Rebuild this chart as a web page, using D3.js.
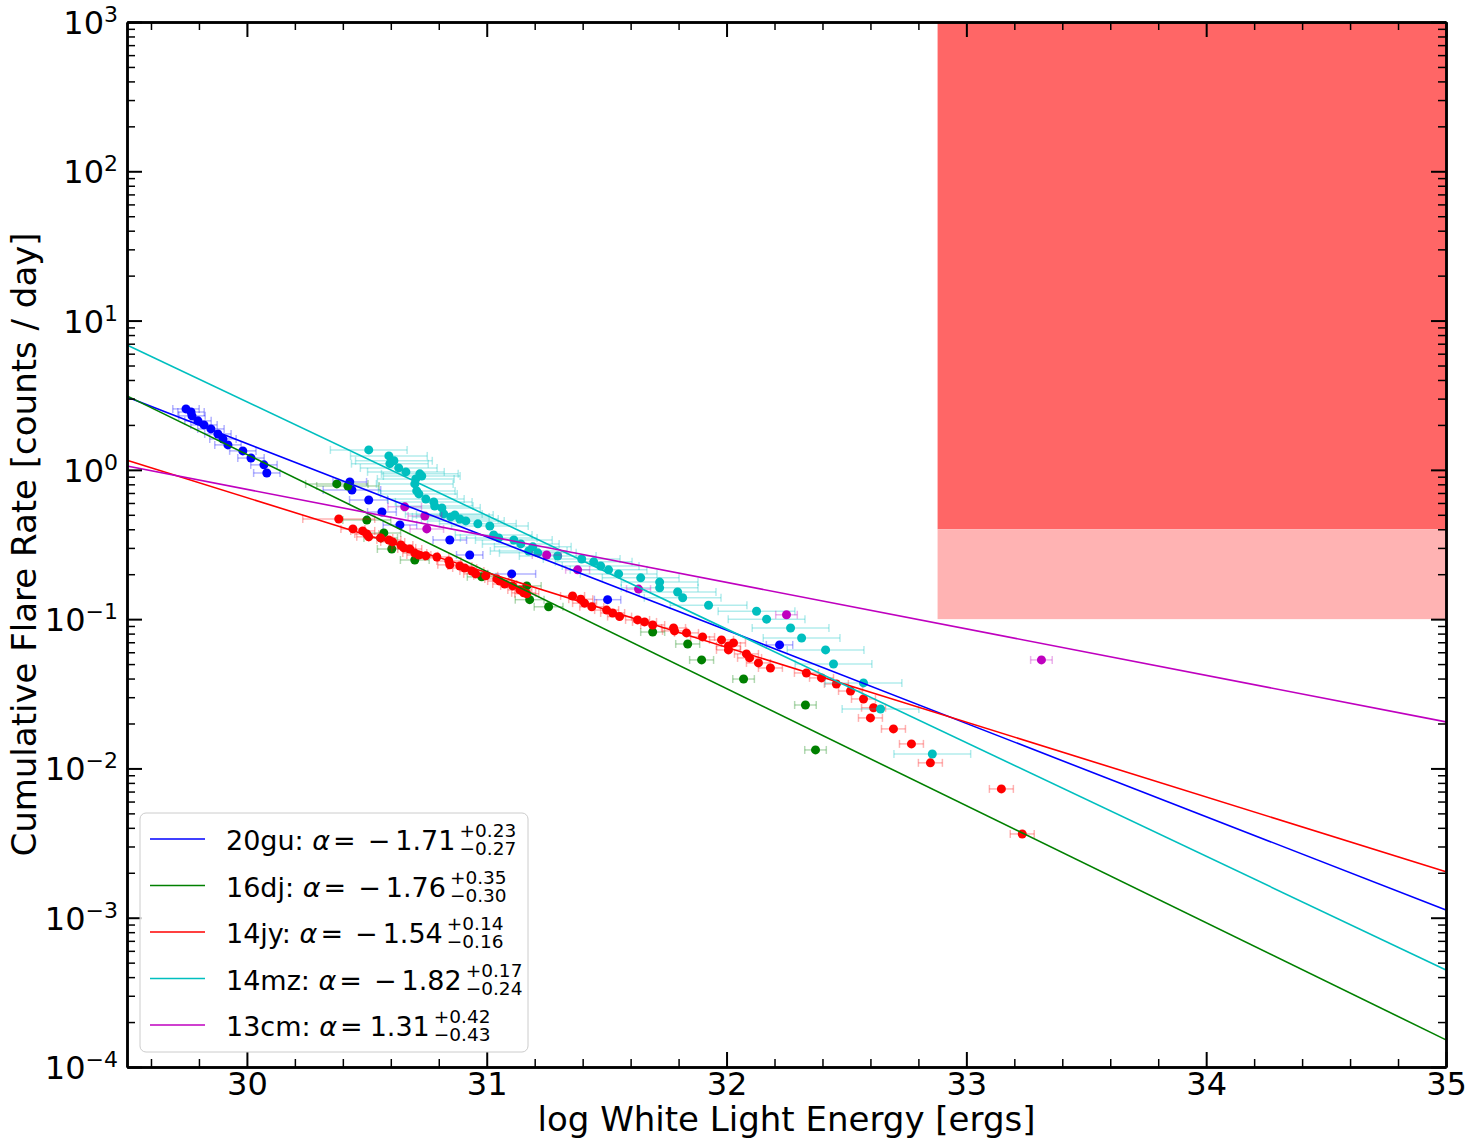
<!DOCTYPE html>
<html>
<head>
<meta charset="utf-8">
<script src="https://cdn.jsdelivr.net/npm/d3@7"></script>
<style>
  body { margin: 0; background: #fff; }
  text { font-family: "DejaVu Sans", sans-serif; }
</style>
</head>
<body>
<svg id="chart" width="1467" height="1142"></svg>
<script>
// --- data ---
// 20gu (blue)
const gu20E = [29.746,29.767,29.771,29.796,29.821,29.850,29.879,29.900,29.921,29.983,30.017,30.071,30.083,30.429,30.438,30.508,30.563,30.638,30.846,30.929,31.104,31.504,32.221];
const gu20Rate = [2.56,2.44,2.30,2.13,2.00,1.88,1.74,1.61,1.47,1.34,1.20,1.08,0.953,0.830,0.733,0.628,0.522,0.428,0.339,0.269,0.201,0.135,0.0672];
const gu20Err = [0.055,0.055,0.055,0.055,0.055,0.055,0.055,0.055,0.055,0.055,0.055,0.055,0.055,0.07,0.12,0.08,0.06,0.07,0.07,0.055,0.1,0.055,0.055];

// 16dj (green)
const dj16E = [30.375,30.421,30.500,30.571,30.558,30.604,30.700,30.979,31.167,31.179,31.258,31.692,31.838,31.896,32.071,32.329,32.371];
const dj16Rate = [0.805,0.780,0.461,0.378,0.350,0.295,0.249,0.192,0.167,0.135,0.121,0.0820,0.0682,0.0533,0.0397,0.0266,0.0133];
const dj16Err = [0.13,0.13,0.1,0.07,0.07,0.06,0.06,0.06,0.06,0.06,0.06,0.05,0.05,0.05,0.045,0.045,0.045];

// 14jy (red)
const jy14E = [30.383,30.442,30.483,30.500,30.508,30.558,30.592,30.608,30.642,30.654,30.679,30.700,30.717,30.746,30.792,30.842,30.846,30.888,30.908,30.938,30.954,30.996,31.042,31.054,31.075,31.108,31.138,31.154,31.167,31.358,31.392,31.408,31.438,31.500,31.525,31.554,31.629,31.658,31.692,31.779,31.783,31.833,31.900,31.979,32.029,32.008,32.008,32.083,32.096,32.133,32.183,32.333,32.396,32.458,32.517,32.571,32.613,32.600,32.696,32.771,32.850,33.146,33.233];
const jy14Rate = [0.469,0.402,0.390,0.372,0.356,0.350,0.339,0.329,0.314,0.300,0.295,0.277,0.269,0.266,0.261,0.245,0.231,0.227,0.220,0.210,0.201,0.195,0.186,0.180,0.172,0.167,0.157,0.150,0.148,0.143,0.136,0.128,0.121,0.115,0.110,0.104,0.0988,0.0958,0.0914,0.0873,0.0834,0.0809,0.0760,0.0726,0.0693,0.0662,0.0622,0.0585,0.0550,0.0509,0.0471,0.0436,0.0404,0.0368,0.0330,0.0292,0.0255,0.0218,0.0184,0.0146,0.0109,0.00729,0.00364];
const jy14Err = 0.05;

// 14mz (cyan)
const mz14E = [30.508,30.592,30.613,30.596,30.633,30.663,30.721,30.729,30.704,30.700,30.708,30.717,30.746,30.779,30.783,30.813,30.821,30.850,30.867,30.888,30.913,30.963,31.013,31.029,31.050,31.113,31.142,31.175,31.192,31.213,31.296,31.396,31.446,31.475,31.508,31.550,31.642,31.721,31.721,31.796,31.817,31.925,32.125,32.167,32.267,32.313,32.413,32.446,32.571,32.642,32.858];
const mz14Rate = [1.36,1.24,1.15,1.10,1.03,0.969,0.940,0.910,0.869,0.805,0.723,0.690,0.638,0.610,0.573,0.556,0.507,0.484,0.499,0.469,0.455,0.435,0.421,0.366,0.350,0.339,0.319,0.286,0.305,0.278,0.265,0.253,0.242,0.227,0.214,0.201,0.189,0.177,0.162,0.152,0.139,0.124,0.113,0.100,0.0873,0.0748,0.0622,0.0501,0.0374,0.0250,0.0125];
const mz14Err = 0.16;

// 13cm (magenta)
const cm13E = [30.658,30.742,30.750,31.250,31.379,31.633,32.250,33.313];
const cm13Rate = [0.565,0.491,0.402,0.269,0.214,0.159,0.107,0.0533];
const cm13Err = [0.07,0.07,0.07,0.06,0.05,0.05,0.045,0.045];

// power-law fits: rate at logE = 29.5 and at logE = 35
const fitNames = ["20gu","16dj","14jy","14mz","13cm"];
const fitAlpha = ["−1.71","−1.76","−1.54","−1.82","1.31"];
const fitPlus = ["+0.23","+0.35","+0.14","+0.17","+0.42"];
const fitMinus = ["−0.27","−0.30","−0.16","−0.24","−0.43"];
const fitStart = [3.08,3.13,1.16,6.87,1.06];
const fitEnd = [0.001127,0.000152,0.00203,0.000447,0.0205];
const fitColors = ["#0000ff","#008000","#ff0000","#00bfbf","#bf00bf"];

// shaded region
const shadeE = [32.88, 35];
const shadeDark = [0.40, 1000];
const shadeLight = [0.1, 0.40];

const yMajor = [1e-4,1e-3,1e-2,1e-1,1,10,100,1000];
const xMajor = [30,31,32,33,34,35];

// --- layout ---
const L = 127, R = 1446, T = 22, B = 1067;
const svg = d3.select("#chart");

const x = d3.scaleLinear().domain([29.5, 35]).range([L, R]);
const y = d3.scaleLog().domain([1e-4, 1e3]).range([B, T]);

// shaded boxes
svg.append("rect")
  .attr("x", x(shadeE[0])).attr("width", x(shadeE[1]) - x(shadeE[0]))
  .attr("y", y(shadeDark[1])).attr("height", y(shadeDark[0]) - y(shadeDark[1]))
  .attr("fill", "#ff6666");
svg.append("rect")
  .attr("x", x(shadeE[0])).attr("width", x(shadeE[1]) - x(shadeE[0]))
  .attr("y", y(shadeLight[1])).attr("height", y(shadeLight[0]) - y(shadeLight[1]))
  .attr("fill", "#ffb3b3");

// points with horizontal error bars
const series = [
  {E: gu20E, r: gu20Rate, err: gu20Err, color: fitColors[0]},
  {E: dj16E, r: dj16Rate, err: dj16Err, color: fitColors[1]},
  {E: jy14E, r: jy14Rate, err: jy14Err, color: fitColors[2]},
  {E: mz14E, r: mz14Rate, err: mz14Err, color: fitColors[3]},
  {E: cm13E, r: cm13Rate, err: cm13Err, color: fitColors[4]}
];

series.forEach(function(s){
  var pts = s.E.map(function(e, i){
    var w = Array.isArray(s.err) ? s.err[i] : s.err;
    if (s.E === jy14E && i === 0) w = 0.15;
    return {e: e, r: s.r[i], w: w};
  });
  var g = svg.append("g");
  var eb = g.append("g")
    .attr("stroke", s.color).attr("stroke-opacity", 0.3).attr("stroke-width", 1.5);
  eb.selectAll("line.bar").data(pts).join("line").attr("class", "bar")
    .attr("x1", d => x(d.e - d.w)).attr("x2", d => x(d.e + d.w))
    .attr("y1", d => y(d.r)).attr("y2", d => y(d.r));
  eb.selectAll("line.capl").data(pts).join("line").attr("class", "capl")
    .attr("x1", d => x(d.e - d.w)).attr("x2", d => x(d.e - d.w))
    .attr("y1", d => y(d.r) - 4).attr("y2", d => y(d.r) + 4);
  eb.selectAll("line.capr").data(pts).join("line").attr("class", "capr")
    .attr("x1", d => x(d.e + d.w)).attr("x2", d => x(d.e + d.w))
    .attr("y1", d => y(d.r) - 4).attr("y2", d => y(d.r) + 4);
  g.selectAll("circle").data(pts).join("circle")
    .attr("cx", d => x(d.e)).attr("cy", d => y(d.r)).attr("r", 4.5)
    .attr("fill", s.color);
});

// fit lines
const line = d3.line().x(d => x(d[0])).y(d => y(d[1]));
fitNames.forEach(function(n, i){
  svg.append("path")
    .datum([[29.5, fitStart[i]], [35, fitEnd[i]]])
    .attr("d", line)
    .attr("fill", "none").attr("stroke", fitColors[i]).attr("stroke-width", 1.6);
});

// --- axes (ticks pointing inward on all sides) ---
const yMinor = [];
for (var k = -4; k < 3; k++) for (var m = 2; m < 10; m++) yMinor.push(m * Math.pow(10, k));
const xMinor = d3.range(296, 350, 2).filter(v => v % 10 !== 0).map(v => v / 10);

function styleAxis(g, w){
  g.select(".domain").attr("stroke-width", 2.5);
  g.selectAll(".tick line").attr("stroke-width", w);
}

svg.append("g").attr("transform", `translate(${L},0)`)
  .call(d3.axisLeft(y).tickValues(yMinor).tickSize(-8).tickSizeOuter(0).tickFormat(""))
  .call(g => styleAxis(g, 1.5));
svg.append("g").attr("transform", `translate(${R},0)`)
  .call(d3.axisRight(y).tickValues(yMinor).tickSize(-8).tickSizeOuter(0).tickFormat(""))
  .call(g => styleAxis(g, 1.5));
svg.append("g").attr("transform", `translate(0,${B})`)
  .call(d3.axisBottom(x).tickValues(xMinor).tickSize(-8).tickSizeOuter(0).tickFormat(""))
  .call(g => styleAxis(g, 1.5));
svg.append("g").attr("transform", `translate(0,${T})`)
  .call(d3.axisTop(x).tickValues(xMinor).tickSize(-8).tickSizeOuter(0).tickFormat(""))
  .call(g => styleAxis(g, 1.5));

svg.append("g").attr("transform", `translate(${R},0)`)
  .call(d3.axisRight(y).tickValues(yMajor).tickSize(-15).tickSizeOuter(0).tickFormat(""))
  .call(g => styleAxis(g, 2));
svg.append("g").attr("transform", `translate(0,${T})`)
  .call(d3.axisTop(x).tickValues(xMajor).tickSize(-15).tickSizeOuter(0).tickFormat(""))
  .call(g => styleAxis(g, 2));

svg.append("g").attr("transform", `translate(0,${B})`)
  .call(d3.axisBottom(x).tickValues(xMajor).tickSize(-15).tickSizeOuter(0).tickPadding(5).tickFormat(d3.format("d")))
  .call(g => styleAxis(g, 2))
  .call(g => g.selectAll(".tick text").attr("font-size", 32).attr("font-family", "DejaVu Sans").attr("fill", "#000"));

svg.append("g").attr("transform", `translate(${L},0)`)
  .call(d3.axisLeft(y).tickValues(yMajor).tickSize(-15).tickSizeOuter(0).tickPadding(9).tickFormat(""))
  .call(g => styleAxis(g, 2))
  .call(g => g.selectAll(".tick text").each(function(d){
    var p = Math.round(Math.log10(d));
    var t = d3.select(this).attr("dy", null).attr("y", 11.5)
      .attr("font-size", 32).attr("font-family", "DejaVu Sans").attr("fill", "#000");
    t.append("tspan").text("10");
    t.append("tspan").attr("dy", -12).attr("font-size", 22).text(p < 0 ? "−" + (-p) : String(p));
  }));

// axis titles
svg.append("text")
  .attr("x", (L + R) / 2).attr("y", 1131)
  .attr("text-anchor", "middle").attr("font-size", 34)
  .text("log White Light Energy [ergs]");
svg.append("text")
  .attr("transform", `translate(36,${(T + B) / 2}) rotate(-90)`)
  .attr("text-anchor", "middle").attr("font-size", 34)
  .text("Cumulative Flare Rate [counts / day]");

// --- legend ---
const lg = svg.append("g");
lg.append("rect")
  .attr("x", 140).attr("y", 813).attr("width", 388).attr("height", 239).attr("rx", 6)
  .attr("fill", "#fff").attr("fill-opacity", 0.8).attr("stroke", "#cccccc").attr("stroke-width", 1);

fitNames.forEach(function(n, i){
  var yy = 839 + i * 46.5;
  lg.append("line").attr("x1", 150).attr("x2", 205).attr("y1", yy).attr("y2", yy)
    .attr("stroke", fitColors[i]).attr("stroke-width", 1.6);
  var t = lg.append("text").attr("x", 226).attr("y", yy + 11).attr("font-size", 27)
    .style("white-space", "pre");
  t.append("tspan").text(n + ": ");
  t.append("tspan").attr("font-style", "italic").text("α");
  t.append("tspan").attr("dx", 3).text("=");
  if (fitAlpha[i][0] === "−") {
    t.append("tspan").attr("dx", 12).text("−");
    t.append("tspan").attr("dx", 5).text(fitAlpha[i].slice(1));
  } else {
    t.append("tspan").attr("dx", 7).text(fitAlpha[i]);
  }
  var bb = t.node().getBBox();
  var ex = bb.x + bb.width + 4;
  var st = lg.append("text").attr("font-size", 18.5);
  st.append("tspan").attr("x", ex).attr("y", yy - 2).text(fitPlus[i]);
  st.append("tspan").attr("x", ex).attr("y", yy + 16).text(fitMinus[i]);
});
</script>
</body>
</html>
